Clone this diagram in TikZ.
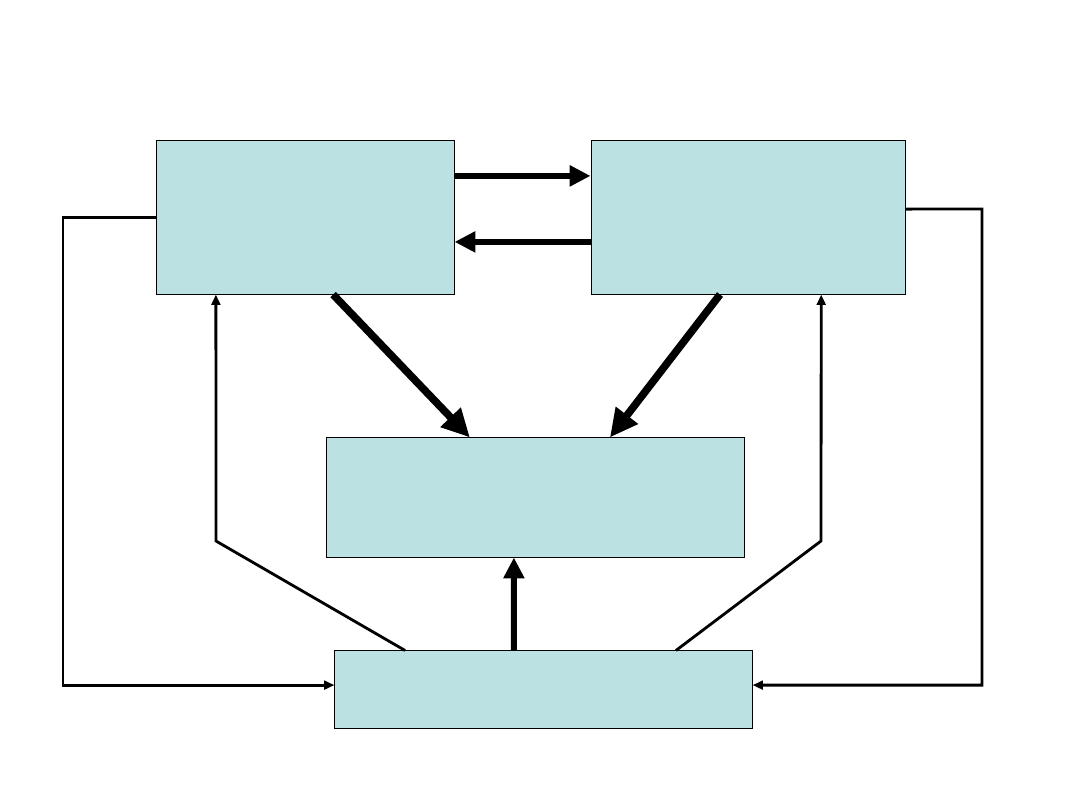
\documentclass[tikz,border=0pt]{standalone}
\usetikzlibrary{arrows.meta}
\definecolor{boxfill}{HTML}{BCE1E3}

\begin{document}
\begin{tikzpicture}[
  x=0.025cm, y=-0.025cm,
  block/.style={draw=black, fill=boxfill, line width=.6pt, inner sep=0pt},
  flow/.style={-{Triangle[length=5.2mm, width=5mm]}, line width=4.2pt},
  heavy/.style={flow, line width=5.4pt, -{Triangle[length=7mm, width=6.6mm]}},
  link/.style={-{Triangle[length=2.6mm, width=2.2mm]}, line width=2pt},
  loop/.style={link, line join=miter}
]
\useasboundingbox (0,0) rectangle (1080,810);

% Four boxes
\node[block, minimum width=7.43cm, minimum height=3.83cm] (left) at (305.5,217.5) {};
\node[block, minimum width=7.85cm, minimum height=3.83cm] (right) at (748,217.5) {};
\node[block, minimum width=10.43cm, minimum height=2.98cm] (centre) at (535.5,497.5) {};
\node[block, minimum width=10.43cm, minimum height=1.93cm] (base) at (543.5,689.5) {};

% Exchange between the two upper boxes
\draw[flow] ([yshift=1.04cm]left.east) -- ([yshift=1.04cm]right.west);
\draw[flow] ([yshift=-.61cm]right.west) -- ([yshift=-.61cm]left.east);

% Both upper boxes and the base feed the centre
\draw[heavy] ([xshift=.69cm]left.south) -- ([xshift=-1.64cm]centre.north);
\draw[heavy] ([xshift=-.7cm]right.south) -- ([xshift=1.86cm]centre.north);
\draw[flow] ([xshift=-.74cm]base.north) -- ([xshift=-.54cm]centre.south);

% Base back up to the upper boxes
\coordinate (lbend) at (216,541);
\coordinate (rbend) at (821,541);
\draw[link, line join=miter] ([xshift=-3.46cm]base.north) -- (lbend) -- ([xshift=-2.24cm]left.south);
\draw[link, line join=miter] ([xshift=3.31cm]base.north) -- (rbend) -- ([xshift=1.83cm]right.south);

% Outer loops down to the base
\coordinate (lcorner) at (63,217.5);
\coordinate (rcorner) at (982,209);
\draw[loop] (left.west) -- (lcorner) |- ([yshift=.11cm]base.west);
\draw[loop] ([yshift=.21cm]right.east) -- (rcorner) |- ([yshift=.11cm]base.east);
\end{tikzpicture}
\end{document}
